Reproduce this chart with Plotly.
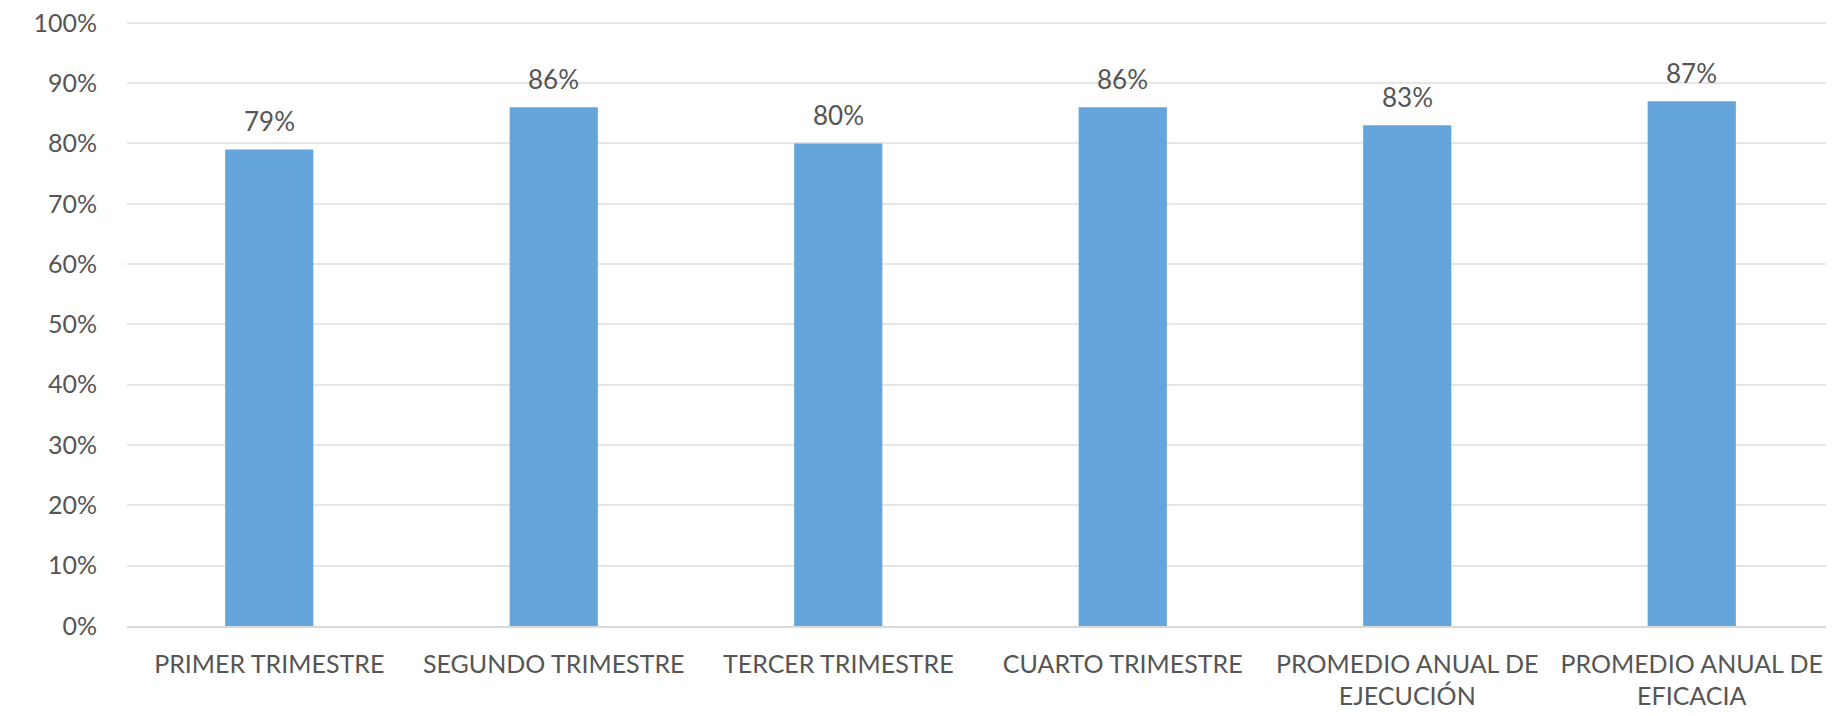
import plotly.graph_objects as go

categories = [
    "PRIMER TRIMESTRE",
    "SEGUNDO TRIMESTRE",
    "TERCER TRIMESTRE",
    "CUARTO TRIMESTRE",
    "PROMEDIO ANUAL DE<br>EJECUCIÓN",
    "PROMEDIO ANUAL DE<br>EFICACIA",
]
values = [0.79, 0.86, 0.80, 0.86, 0.83, 0.87]
value_labels = ["79%", "86%", "80%", "86%", "83%", "87%"]

font_family = "Lato, 'Open Sans', sans-serif"
text_color = "#555555"

fig = go.Figure()
fig.add_trace(go.Bar(
    x=categories,
    y=values,
    marker_color="#64A5DB",
    marker_line_width=0,
    hoverinfo="skip",
))

# value labels above each bar
for cat, val, lab in zip(categories, values, value_labels):
    fig.add_annotation(
        x=cat, y=val, text=lab, showarrow=False,
        yanchor="middle", yshift=28,
        font=dict(family=font_family, size=26, color=text_color),
    )

# the page body has an 8px default margin, so the figure is 8px smaller
# than the 1834x716 window to fit inside it
fig.update_layout(
    width=1826,
    height=708,
    margin=dict(l=119, r=0, t=13, b=90),
    paper_bgcolor="white",
    plot_bgcolor="white",
    bargap=0.69,
    showlegend=False,
    font=dict(family=font_family, size=26, color=text_color),
)
fig.update_xaxes(
    automargin=False,
    showgrid=False,
    showline=True,
    linecolor="#D9D9D9",
    linewidth=1.5,
    ticks="",
    ticklabelstandoff=15,
    ticklabeloverflow="allow",
    tickfont=dict(family=font_family, size=25, color=text_color),
)
fig.update_yaxes(
    automargin=False,
    range=[0, 1.003],
    dtick=0.1,
    tickformat=".0%",
    showgrid=True,
    gridcolor="#E6E6E6",
    gridwidth=1.5,
    zeroline=False,
    ticks="",
    ticklabelstandoff=29,
    ticklabeloverflow="allow",
    tickfont=dict(family=font_family, size=25, color=text_color),
)

fig.write_html("out.html")
